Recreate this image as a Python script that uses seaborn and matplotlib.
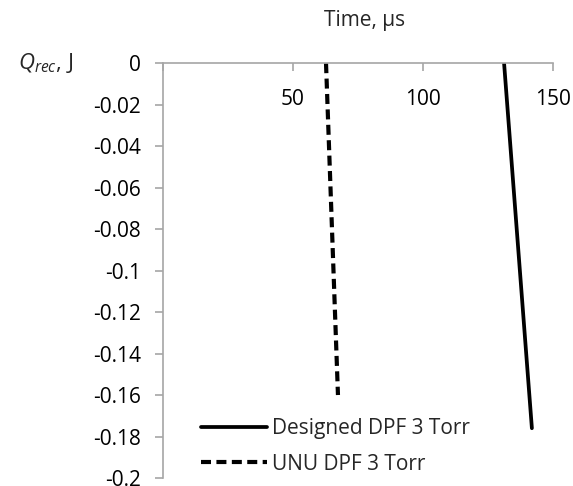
import matplotlib
matplotlib.use("Agg")
import matplotlib.pyplot as plt
import seaborn as sns

# values
designed_time = [131.2, 141.9]
designed_q = [0.0, -0.176]
unu_time = [62.7, 67.3]
unu_q = [0.0, -0.16]

x_ticks = [0, 50, 100, 150]
x_labels = ["", "50", "100", "150"]
y_ticks = [0, -0.02, -0.04, -0.06, -0.08, -0.1, -0.12, -0.14, -0.16, -0.18, -0.2]
y_labels = ["0", "-0.02", "-0.04", "-0.06", "-0.08", "-0.1", "-0.12", "-0.14", "-0.16", "-0.18", "-0.2"]

sns.set_style("white")
plt.rcParams["font.family"] = ["Open Sans", "DejaVu Sans"]
plt.rcParams["mathtext.fontset"] = "custom"
plt.rcParams["mathtext.it"] = "Open Sans:italic"
plt.rcParams["mathtext.rm"] = "Open Sans"

fs = 15

fig = plt.figure(figsize=(5.73, 4.86), dpi=100)
ax = fig.add_axes([0.2845, 0.0165, 0.6805, 0.8535])

sns.lineplot(x=designed_time, y=designed_q, color="black", linewidth=2.7,
             label="Designed DPF 3 Torr", ax=ax)
sns.lineplot(x=unu_time, y=unu_q, color="black", linewidth=3.0,
             linestyle=(0, (2.4, 1.3)), label="UNU DPF 3 Torr", ax=ax)

ax.set_xlim(0, 150)
ax.set_ylim(-0.2, 0)

gray = "#a6a6a6"
for side in ["bottom", "right"]:
    ax.spines[side].set_visible(False)
for side in ["top", "left"]:
    ax.spines[side].set_color(gray)
    ax.spines[side].set_linewidth(1.2)

ax.xaxis.tick_top()
ax.set_xticks(x_ticks)
ax.set_xticklabels(x_labels)
ax.tick_params(axis="x", direction="in", length=6, width=1.2, color=gray,
               pad=-34, labelsize=fs, labelcolor="black")
ax.set_yticks(y_ticks)
ax.set_yticklabels(y_labels)
ax.tick_params(axis="y", direction="out", length=6, width=1.2, color=gray,
               pad=10, labelsize=fs, labelcolor="black", left=True)

ax.xaxis.set_label_position("top")
ax.set_xlabel("Time, µs", fontsize=fs)
ax.xaxis.set_label_coords(0.518, 1.09)
ax.set_ylabel(r"$Q_{rec}$, J", fontsize=fs + 1, rotation=0, ha="center", va="center")
ax.yaxis.set_label_coords(-0.30, 1.0)

ax.legend(loc="lower left", bbox_to_anchor=(0.075, -0.012), frameon=False,
          handlelength=3.2, handletextpad=0.25, labelspacing=0.7, fontsize=fs,
          borderaxespad=0)

plt.savefig("out.png", dpi=100)
plt.close()
